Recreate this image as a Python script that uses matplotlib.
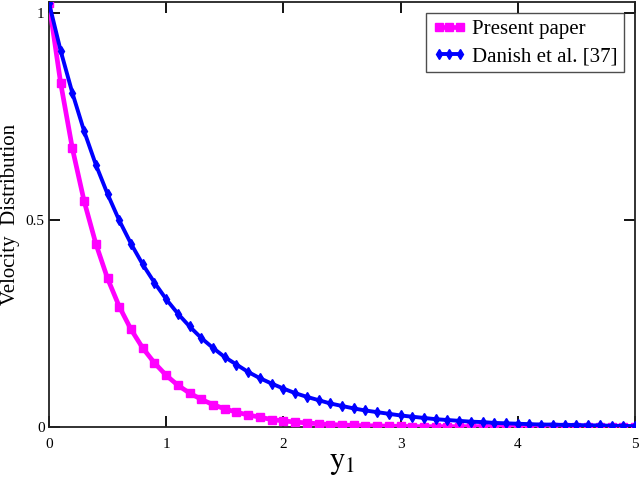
import numpy as np
import matplotlib
matplotlib.use("Agg")
import matplotlib.pyplot as plt

# x positions of the plotted points (step 0.1 from 0 to 5)
y1 = np.round(np.arange(0, 5.01, 0.1), 2)

present_paper = [1.025, 0.831, 0.673, 0.546, 0.443, 0.359, 0.291, 0.236, 0.191, 0.155,
                 0.125, 0.101, 0.082, 0.067, 0.054, 0.044, 0.036, 0.029, 0.024, 0.018,
                 0.015, 0.012, 0.010, 0.008, 0.006, 0.005, 0.004, 0.003, 0.003, 0.002,
                 0.002, 0.001, 0.001, 0.001, 0.001, 0.001, 0.001, 0.001, 0.001, 0.001,
                 0.001, 0.000, 0.000, 0.000, 0.000, 0.000, 0.000, 0.000, 0.000, 0.000,
                 0.000]

danish = [1.025, 0.909, 0.807, 0.715, 0.634, 0.563, 0.499, 0.443, 0.393, 0.349,
          0.309, 0.274, 0.243, 0.215, 0.191, 0.169, 0.151, 0.133, 0.118, 0.105,
          0.093, 0.082, 0.073, 0.065, 0.057, 0.051, 0.045, 0.040, 0.036, 0.032,
          0.028, 0.025, 0.022, 0.019, 0.017, 0.015, 0.013, 0.012, 0.010, 0.009,
          0.008, 0.007, 0.006, 0.006, 0.005, 0.005, 0.004, 0.004, 0.003, 0.003,
          0.002]

x_ticks = [0, 1, 2, 3, 4, 5]
y_ticks = [0, 0.5, 1]
y_tick_labels = ["0", "0.5", "1"]

plt.rcParams["font.family"] = ["Liberation Serif", "DejaVu Serif"]
plt.rcParams["mathtext.fontset"] = "stix"

fig = plt.figure(figsize=(6.44, 4.82), dpi=100)
ax = fig.add_axes([0.076, 0.114, 0.910, 0.882])

ax.plot(y1, present_paper, color="#FF00FF", lw=3.4, marker="s", ms=5.2,
        label="Present paper", zorder=3)
ax.plot(y1, danish, color="#0000FF", lw=2.8, marker="d", ms=5.0,
        label="Danish et al. [37]", zorder=4)

ax.set_xlim(0, 5)
ax.set_ylim(0, 1.027)
ax.set_xticks(x_ticks)
ax.set_yticks(y_ticks)
ax.set_yticklabels(y_tick_labels)
ax.tick_params(direction="in", length=8, width=1.3, top=True, right=True,
               labelsize=11, colors="black")
ax.tick_params(axis="x", pad=8)
ax.tick_params(axis="y", pad=3)
for s in ax.spines.values():
    s.set_linewidth(1.3)
    s.set_color("#222222")

ax.set_xlabel(r"$\mathrm{y}_{1}$", fontsize=22, labelpad=-2)
ax.set_ylabel("Velocity  Distribution", fontsize=15, labelpad=4)

leg = ax.legend(loc="upper right", bbox_to_anchor=(0.981, 0.973), fontsize=15,
                frameon=True, fancybox=False, edgecolor="#222222",
                handlelength=1.6, handletextpad=0.3, borderpad=0.3,
                labelspacing=0.35, borderaxespad=0, numpoints=3)
leg.get_frame().set_linewidth(1.0)

fig.savefig("out.png", dpi=100)
